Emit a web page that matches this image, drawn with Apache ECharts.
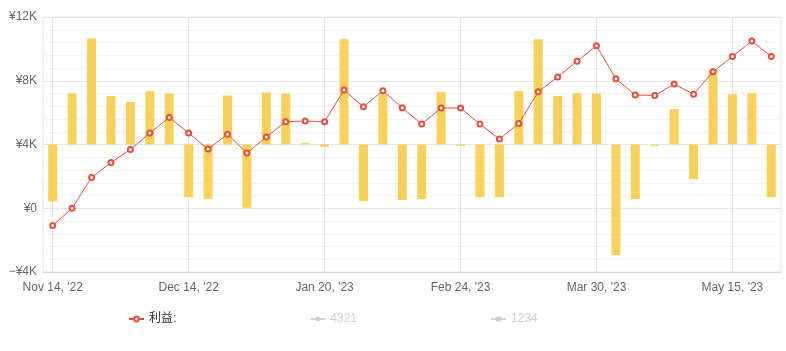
<!DOCTYPE html>
<html>
<head>
<meta charset="utf-8">
<script src="https://cdn.jsdelivr.net/npm/echarts@6/dist/echarts.min.js"></script>
<style>
  html, body { margin: 0; padding: 0; background: #fff; }
  #main { width: 786px; height: 351px; }
</style>
</head>
<body>
<div id="main"></div>
<script>
// 日期（类目）
const dates = [
  "Nov 14, '22", "Nov 18, '22", "Nov 22, '22", "Nov 26, '22", "Nov 30, '22", "Dec 4, '22", "Dec 9, '22",
  "Dec 14, '22", "Dec 19, '22", "Dec 24, '22", "Dec 29, '22", "Jan 3, '23", "Jan 8, '23", "Jan 14, '23",
  "Jan 20, '23", "Jan 25, '23", "Jan 30, '23", "Feb 4, '23", "Feb 9, '23", "Feb 14, '23", "Feb 19, '23",
  "Feb 24, '23", "Mar 1, '23", "Mar 6, '23", "Mar 11, '23", "Mar 16, '23", "Mar 21, '23", "Mar 25, '23",
  "Mar 30, '23", "Apr 6, '23", "Apr 12, '23", "Apr 19, '23", "Apr 25, '23", "May 2, '23", "May 8, '23",
  "May 15, '23", "May 20, '23", "May 25, '23"
];
// 利益 折线
const profit = [
  -1080, 0, 1930, 2870, 3690, 4720, 5700, 4720, 3710, 4650, 3460, 4470, 5430,
  5470, 5430, 7420, 6370, 7370, 6300, 5280, 6290, 6290, 5280, 4340, 5320, 7310,
  8230, 9230, 10190, 8120, 7100, 7080, 7790, 7160, 8560, 9520, 10490, 9520
];
// 柱子（以 ¥4K 为基线）
const bars = [
  -3570, 3200, 6650, 3040, 2660, 3350, 3200, -3300, -3420, 3080, -3970, 3260, 3200,
  100, -150, 6610, -3550, 3140, -3490, -3420, 3290, -80, -3300, -3300, 3350, 6610,
  3040, 3220, 3220, -6940, -3420, -80, 2220, -2170, 4690, 3160, 3220, -3300
];
const yTicks = [-4000, 0, 4000, 8000, 12000];

const font = 'Liberation Sans, Arial, Noto Sans CJK SC, sans-serif';
const myChart = echarts.init(document.getElementById('main'));
const option = {
  animation: false,
  textStyle: { fontFamily: font },
  grid: {
    left: 43, right: 5, top: 17, bottom: 79,
    show: true,
    borderColor: '#e6e6e6',
    borderWidth: 1
  },
  legend: {
    left: 123,
    top: 308,
    itemWidth: 15,
    itemHeight: 6,
    itemGap: 133,
    inactiveColor: '#ccc',
    textStyle: { color: '#333', fontSize: 12, fontFamily: font },
    data: ['利益:', '4321', '1234'],
    selected: { '4321': false, '1234': false }
  },
  xAxis: {
    type: 'category',
    data: dates,
    boundaryGap: true,
    axisLine: { onZero: false, lineStyle: { color: '#ccd6eb' } },
    axisTick: { show: false, alignWithLabel: true, interval: 6 },
    axisLabel: { interval: 6, color: '#666', fontSize: 12, margin: 10 },
    splitLine: {
      show: true,
      interval: 6,
      alignWithLabel: true,
      lineStyle: { color: '#e6e6e6', width: 1 }
    }
  },
  yAxis: [
    {
      type: 'value',
      min: yTicks[0],
      max: yTicks[yTicks.length - 1],
      interval: 4000,
      axisLine: { show: false },
      axisTick: { show: false },
      axisLabel: {
        color: '#666',
        fontSize: 12,
        margin: 6,
        formatter: function (v) {
          if (v === 0) return '¥0';
          return (v < 0 ? '−' : '') + '¥' + Math.abs(v / 1000) + 'K';
        }
      },
      splitLine: { lineStyle: { color: '#e6e6e6' } },
      minorTick: { show: false, splitNumber: 5 },
      minorSplitLine: { show: true, lineStyle: { color: '#f4f4f4' } }
    },
    {
      type: 'value',
      min: -8000,
      max: 8000,
      show: false,
      splitLine: { show: false }
    }
  ],
  series: [
    {
      name: 'bars',
      type: 'bar',
      yAxisIndex: 1,
      data: bars,
      barWidth: 9,
      itemStyle: { color: '#f8d15b' }
    },
    {
      name: '利益:',
      type: 'line',
      data: profit,
      symbol: 'emptyCircle',
      symbolSize: 5,
      z: 5,
      lineStyle: { color: '#e4503c', width: 1 },
      itemStyle: { color: '#e4503c', borderWidth: 1 }
    },
    {
      name: '4321',
      type: 'line',
      data: [],
      symbol: 'circle',
      symbolSize: 4,
      itemStyle: { color: '#ccc' }
    },
    {
      name: '1234',
      type: 'line',
      data: [],
      symbol: 'rect',
      symbolSize: 5,
      itemStyle: { color: '#ccc' }
    }
  ]
};
myChart.setOption(option);
window.onresize = myChart.resize;
</script>
</body>
</html>
